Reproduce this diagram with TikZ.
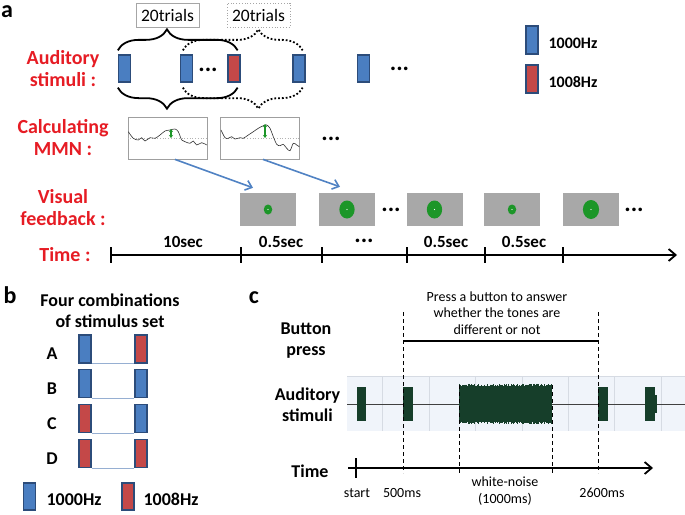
\documentclass[tikz,border=0pt]{standalone}
\usepackage{fontspec}
\setmainfont{Carlito}
\usetikzlibrary{positioning,decorations.pathreplacing,arrows.meta}

\definecolor{labred}{RGB}{230,28,36}
\definecolor{toneblue}{RGB}{74,126,193}
\definecolor{tonered}{RGB}{196,72,72}
\definecolor{toneedge}{RGB}{44,76,122}
\definecolor{fbgray}{RGB}{168,168,168}
\definecolor{dotgreen}{RGB}{28,150,40}
\definecolor{arrblue}{RGB}{80,130,195}
\definecolor{noisegreen}{RGB}{22,62,42}
\definecolor{panelbg}{RGB}{240,244,250}
\definecolor{gridgray}{RGB}{214,219,227}
\definecolor{pairline}{RGB}{150,175,210}

\begin{document}
\begin{tikzpicture}[x=1pt,y=-1pt,
					lab/.style={text=labred,
					align=center,
					font=\bfseries\fontsize{20}{21.5}\selectfont},
					blk/.style={align=center,
					font=\bfseries\fontsize{18}{21}\selectfont},
					small/.style={align=center,
					font=\fontsize{14}{16.5}\selectfont},
					panel/.style={font=\bfseries\fontsize{24}{24}\selectfont, anchor=base, inner sep=0},
					tone/.style={draw=toneedge,
					line width=1.3,
					minimum width=12,
					minimum height=27,
					inner sep=0},
					tlow/.style={tone, fill=toneblue},
					thigh/.style={tone, fill=tonered},
					ellip/.style={inner sep=0, font=\bfseries\fontsize{24}{24}\selectfont},
					fbbox/.style={fill=fbgray, minimum width=56, minimum height=33, inner sep=0},
					mmnbox/.style={draw=gray!75, fill=white, line width=0.8,
					minimum width=79, minimum height=42, inner sep=0},
					trialbox/.style={draw=gray!70, line width=0.8,
					minimum width=63, minimum height=24, inner sep=0,
					font=\fontsize{17.5}{18}\selectfont},
					brc/.style={decorate, line width=1.8,
					decoration={brace, amplitude=21, #1}},
					keytxt/.style={font=\bfseries\fontsize{16}{16}\selectfont},
					seclab/.style={font=\bfseries\fontsize{17}{17}\selectfont, anchor=base},
					fbarrow/.style={arrblue, line width=1.6, -{Straight Barb[length=6pt,width=10pt]}},
					timearrow/.style={line width=1.8, -{Straight Barb[length=7pt,width=12pt]}},
					guide/.style={dash pattern=on 4pt off 3pt, line width=0.8}
					]
\useasboundingbox (0,0) rectangle (685,514);

%%%%%%%%%%%%%%%%%%%% panel a
\node[panel] (alab) at (7,17) {a};

%stimuli row
\node[lab, anchor=base] (audlab) at (63,86) {Auditory\\stimuli :};
\node[tlow]  (s1) at (124.5,68.5) {};
\node[tlow]  (s2) at (186.5,68.5) {};
\node[ellip] (sd1) at (208,70) {...};
\node[thigh] (s3) at (234,68.5) {};
\node[tlow]  (s4) at (299,68.5) {};
\node[tlow]  (s5) at (363.5,68.5) {};
\node[ellip] (sd2) at (399.5,68.5) {...};

%legend
\node[tlow, minimum height=28]  (keylow) at (532,40) {};
\node[keytxt] (keylowtxt) [right of=keylow, node distance=13, anchor=west, yshift=-3] {1000Hz};
\node[thigh, minimum height=28] (keyhigh) at (532,79) {};
\node[keytxt] (keyhightxt) [right of=keyhigh, node distance=13, anchor=west, yshift=-3] {1008Hz};

%20 trial windows
\node[trialbox] (tr1) at (167.5,15) {20trials};
\node[trialbox, dotted] (tr2) at (258.5,15) {20trials};
\draw[brc={aspect=0.41}] ([yshift=4]s1.north west) -- ([xshift=-3,yshift=4]s3.north east);
\draw[brc={aspect=0.41,mirror}] ([yshift=-5]s1.south west) -- ([xshift=-3,yshift=-5]s3.south east);
\draw[brc={aspect=0.63}, dotted] ([xshift=3,yshift=4]s2.north west) -- ([xshift=-3,yshift=4]s4.north east);
\draw[brc={aspect=0.63,mirror}, dotted] ([xshift=3,yshift=-5]s2.south west) -- ([xshift=-3,yshift=-5]s4.south east);

%MMN row
\node[lab, anchor=base] (mmnlab) at (63,155) {Calculating\\MMN :};
\node[mmnbox] (mmn1) at (167.5,138) {};
\node[mmnbox] (mmn2) at (260,138) {};
\draw[gray!60, dotted, line width=0.7] (mmn1.west) -- (mmn1.east);
\draw[gray!60, dotted, line width=0.7] (mmn2.west) -- (mmn2.east);
\draw[gray!40!black, line width=0.6] plot[smooth] coordinates {(128.3,131.7) (133.3,138.3) (138.3,140) (141.7,137.7) (145,141) (150,137.7) (155,138.3) (160,135) (165,131) (170,130) (175,129) (178.3,131.7) (181.7,140) (185,141.7) (190,143.3) (193.3,141) (196.7,145) (201.7,142.7) (206.7,145)};
\draw[gray!40!black, line width=0.6] plot[smooth] coordinates {(221,130) (225,137.7) (228.3,138.3) (231.7,136.7) (235,139) (240,137.7) (243.3,138.3) (248.3,135) (253.3,131.7) (258.3,128.3) (263.3,125.7) (266.7,125) (270,128.3) (273.3,136.7) (276.7,144.3) (280,145.7) (283.3,144.3) (286.7,148.3) (290,150.7) (293.3,143.3) (296.7,145) (299.3,146.7)};
\draw[dotgreen, line width=1.2, {Stealth[length=3pt,width=4pt]}-{Stealth[length=3pt,width=4pt]}] (171,129) -- (171,138);
\draw[dotgreen, line width=1.2, {Stealth[length=3pt,width=4pt]}-{Stealth[length=3pt,width=4pt]}] (265,124) -- (265,138);
\node[ellip] (md) at (331,139) {...};

%visual feedback row
\node[lab, anchor=base] (vislab) at (63,225) {Visual\\feedback :};
\foreach \n/\x/\r in {1/268/5, 2/347/9, 3/434.5/9, 4/512/5, 5/591/9.5}{
  \node[fbbox] (fb\n) at (\x,209.5) {};
  \fill[dotgreen] (fb\n.center) ellipse [x radius=0.85*\r, y radius=\r];
  \fill[white] (fb\n.center) circle [radius=0.7];
}
\node[ellip] (fd1) at (391,210) {...};
\node[ellip] (fd2) at (634,210) {...};
\draw[fbarrow] ([xshift=7.5]mmn1.south) -- ([xshift=-15,yshift=5]fb1.north);
\draw[fbarrow] ([xshift=3]mmn2.south) -- ([xshift=-7,yshift=6]fb2.north);

%time line
\node[lab, anchor=base] (timelab) at (65,261) {Time :};
\foreach \x [count=\i] in {111,241,322,407,485,563}{
  \coordinate (t\i) at (\x,255);
  \draw[line width=1.8] ([yshift=8]t\i) -- ([yshift=-8]t\i);
}
\coordinate (tend) at (677,255);
\draw[timearrow] (t1) -- (tend);
\node[seclab] (sec1) at (183,247) {10sec};
\node[seclab] (sec2) at (281,247) {0.5sec};
\node[ellip]  (sec3) at (364,241) {...};
\node[seclab] (sec4) at (446,247) {0.5sec};
\node[seclab] (sec5) at (524,247) {0.5sec};

%%%%%%%%%%%%%%%%%%%% panel b
\node[panel] (blab) at (10,303) {b};
\node[blk, anchor=base] (combo) at (110,327) {Four combinations\\of stimulus set};
\foreach \r/\y/\cl/\cr in {A/349/toneblue/tonered, B/383.5/toneblue/toneblue, C/418.5/tonered/toneblue, D/453.5/tonered/tonered}{
  \node[tone, fill=\cl, minimum height=28] (\r-l) at (85,\y) {};
  \node[tone, fill=\cr, minimum height=28] (\r-r) at (141,\y) {};
  \node[blk] (\r-txt) [left of=\r-l, node distance=33, yshift=-5] {\r};
  \draw[pairline, line width=0.8] (\r-l.south east) -- (\r-r.south west);
}
\node[tlow]  (keyb1) at (29.5,496.5) {};
\node[blk] (keyb1txt) [right of=keyb1, node distance=13.5, anchor=west, yshift=-3] {1000Hz};
\node[thigh] (keyb2) at (128,496.5) {};
\node[blk] (keyb2txt) [right of=keyb2, node distance=12, anchor=west, yshift=-3] {1008Hz};

%%%%%%%%%%%%%%%%%%%% panel c
\node[panel] (clab) at (254,303) {c};

%sound track
\fill[panelbg] (347,376) rectangle (685,431);
\draw[gridgray, line width=0.8] (347,376) -- (685,376);
\foreach \x in {382,429,475,522,568,614,661}
  \draw[gridgray, line width=0.8] (\x,376) -- (\x,431);
\draw[black!75, line width=0.9] (347,404) -- (685,404);
\foreach \a/\b in {357/366,403/413,598/608,645/655}
  \fill[noisegreen] (\a,387) rectangle (\b,421);
\fill[noisegreen] (655,395) rectangle (656.5,413);
% white noise
\pgfmathsetseed{11}
\fill[noisegreen] (459,388) rectangle (552,420);
\foreach \x in {459,459.6,...,552}{
  \pgfmathsetmacro\h{17.5+2.8*rnd}
  \draw[noisegreen, line width=0.7] (\x,404-\h) -- (\x,404+\h);
}

%labels
\node[blk, anchor=base] (btnlab) at (306,355) {Button\\press};
\node[blk, anchor=base] (audlabc) at (307.5,421) {Auditory\\stimuli};
\node[blk, anchor=base] (timelabc) at (310,477) {Time};
\node[small, anchor=base] (press) at (497,334) {Press a button to answer\\whether the tones are\\different or not};

%guides
\coordinate (g1t) at (403,312); \coordinate (g1b) at (403,473);
\coordinate (g4t) at (598,312); \coordinate (g4b) at (598,473);
\coordinate (g2t) at (459,385); \coordinate (g2b) at (459,473);
\coordinate (g3t) at (552,385); \coordinate (g3b) at (552,473);
\draw[guide] (g1t) -- (g1b);
\draw[guide] (g4t) -- (g4b);
\draw[guide] (g2t) -- (g2b);
\draw[guide] (g3t) -- (g3b);
\draw[line width=2] (403,341) -- (598,341);

%time axis
\coordinate (c0) at (348,468);
\coordinate (cend) at (653,468);
\draw[timearrow] (c0) -- (cend);
\draw[line width=1.8] (356,458) -- (356,478);
\node[small, anchor=base] (tstart) at (357,497) {start};
\node[small, anchor=base] (t500) at (402,497) {500ms};
\node[small, anchor=base] (tnoise) at (505,503) {white-noise\\(1000ms)};
\node[small, anchor=base] (t2600) at (602,497) {2600ms};
\end{tikzpicture}
\end{document}
